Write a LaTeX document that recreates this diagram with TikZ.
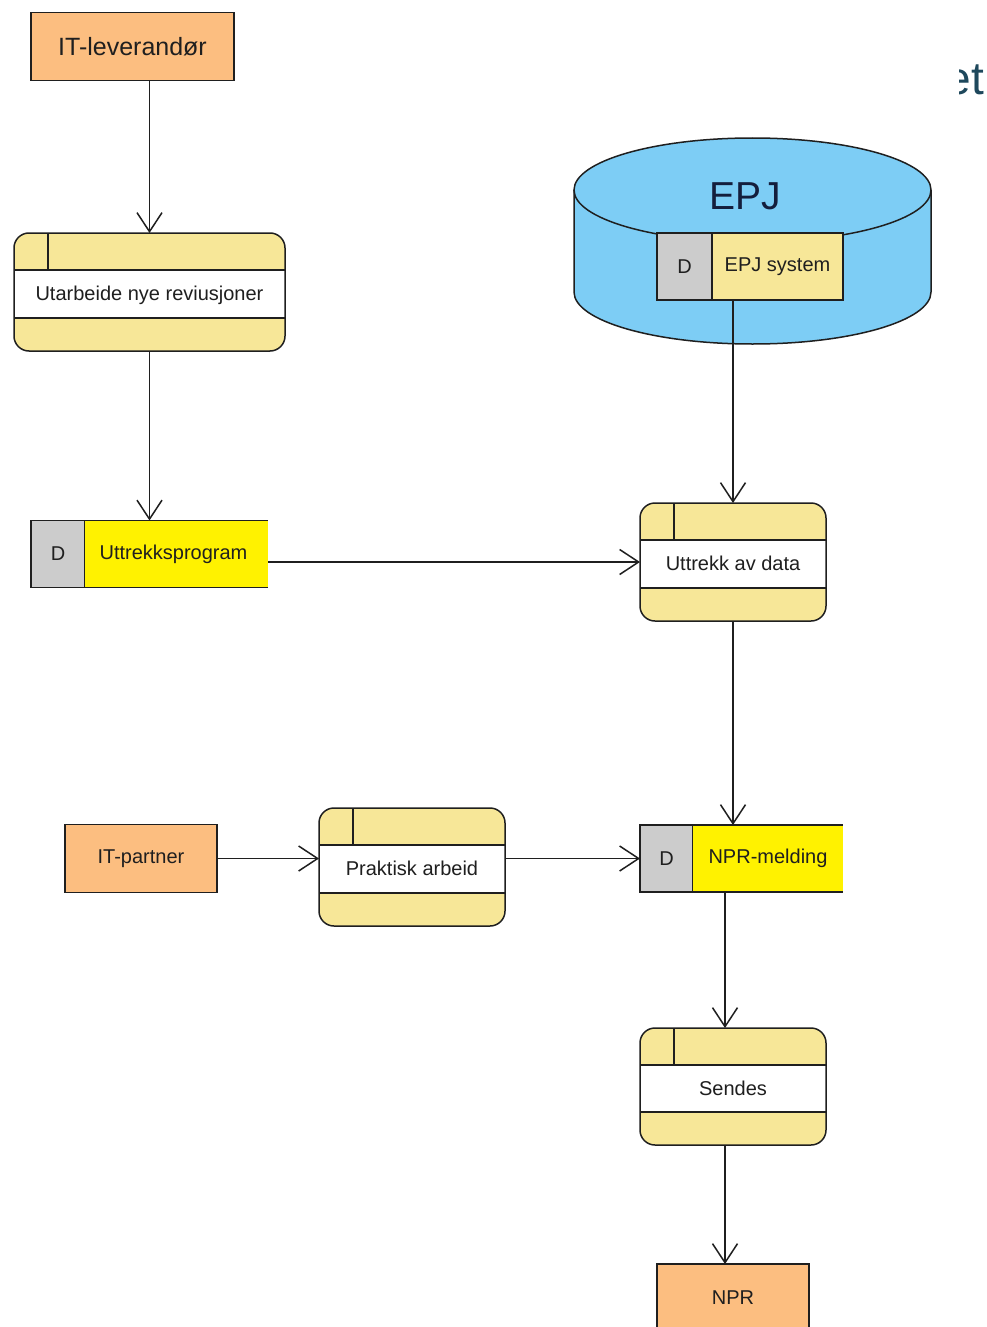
\documentclass[tikz,border=0pt]{standalone}
\usepackage{fontspec}
\setmainfont{Liberation Sans}
\usetikzlibrary{positioning,arrows.meta}

\definecolor{bandyellow}{RGB}{247,231,152}
\definecolor{extorange}{RGB}{252,190,128}
\definecolor{dgrey}{RGB}{204,204,204}
\definecolor{epjblue}{RGB}{125,205,245}
\definecolor{epjtext}{RGB}{20,30,60}
\definecolor{logoblue}{RGB}{30,72,92}

\tikzset{
  ext/.style={draw, fill=extorange, minimum height=68pt, inner sep=0pt, outer sep=0pt},
  proc/.style={draw, fill=bandyellow, rounded corners=15pt, minimum width=186pt, minimum height=118pt,
    inner sep=0pt, outer sep=0pt, text height=20pt, text depth=3pt,
    path picture={
      \coordinate (pnw) at (path picture bounding box.north west);
      \coordinate (pse) at (path picture bounding box.south east);
      \fill[white, sharp corners] ([yshift=-37pt]pnw) rectangle ([yshift=33pt]pse);
      \draw[sharp corners, line width=1.5pt] ([yshift=-37pt]pnw) -- ([yshift=-37pt]pnw -| pse)
        ([yshift=33pt]pse) -- ([yshift=33pt]pse -| pnw)
        ([xshift=34pt]pnw) -- ([xshift=34pt,yshift=-37pt]pnw);
    }},
  dbox/.style={draw, fill=dgrey, minimum width=54pt, minimum height=67pt, inner sep=0pt, outer sep=0pt},
  store/.style={fill=#1, minimum height=67pt, inner sep=0pt, outer sep=0pt},
}

\begin{document}
\begin{tikzpicture}[x=1pt, y=-1pt, line width=1.5pt, color=black!88,
  >={Straight Barb[length=19pt, width=25pt]}, font=\fontsize{20}{24}\selectfont]
\fill[white] (0,0) rectangle (987,1327);
\useasboundingbox (0,0) rectangle (987,1327);

% logo rest
\begin{scope}
\clip (959,40) rectangle (987,110);
\node[anchor=base east, text=logoblue, font=\fontsize{46}{46}\selectfont, inner sep=0pt] (logo) at (985,95) {et};
\end{scope}

% EPJ database
\fill[epjblue] (574,190) -- (574,292) arc[start angle=180, end angle=360, x radius=178.5pt, y radius=52pt]
  -- (931,190) arc[start angle=0, end angle=180, x radius=178.5pt, y radius=52pt] -- cycle;
\draw (574,190) -- (574,292) arc[start angle=180, end angle=360, x radius=178.5pt, y radius=52pt] -- (931,190);
\draw (752.5,190) ellipse [x radius=178.5pt, y radius=52pt];
\node[text=epjtext, font=\fontsize{39}{39}\selectfont] (epj) at (745,196) {EPJ};
\node[dbox, minimum width=55pt] (epjD) at (684.5,266.5) {D};
\node[store=bandyellow, draw, minimum width=131pt, right=0pt of epjD] (epjsys) {EPJ system};

% left column
\node[ext, minimum width=203pt, font=\fontsize{25}{30}\selectfont] (itlev) at (132.5,46.5) {IT-leverandør};
\node[proc, minimum width=271pt] (utarb) at (149.5,292) {Utarbeide nye reviusjoner};
\node[dbox] (uprogD) at (58,554) {D};
\node[store=yellow, minimum width=183pt, right=0pt of uprogD] (uprog) {Uttrekksprogram\hspace*{6pt}};
\draw (uprogD.north east) -- (uprog.north east) (uprogD.south east) -- (uprog.south east);

% right column
\node[proc] (uttrekk) at (733,562) {Uttrekk av data};
\node[dbox, minimum width=53pt] (nprD) at (666.5,858.5) {D};
\node[store=yellow, minimum width=150pt, right=0pt of nprD] (nprmeld) {NPR-melding};
\draw (nprD.north east) -- (nprmeld.north east) (nprD.south east) -- (nprmeld.south east);
\node[proc, minimum height=117pt] (sendes) at (733,1086.5) {Sendes};
\node[ext, minimum width=152pt] (npr) at (733,1298) {NPR};

% middle row
\node[ext, minimum width=152pt] (itpart) at (141,858.5) {IT-partner};
\node[proc] (prakt) at (412,867) {Praktisk arbeid};

% flows
\draw[->] (itlev.south -| utarb.north) -- (utarb.north);
\draw[->] (utarb.south) -- (utarb.south |- uprog.north);
\draw[->] (uprog.east |- uttrekk.west) -- (uttrekk.west);
\draw[->] (uttrekk.north |- epjsys.south) -- (uttrekk.north);
\draw[->] (uttrekk.south) -- (uttrekk.south |- nprmeld.north);
\draw[->] (itpart.east) -- (itpart.east -| prakt.west);
\draw[->] (prakt.east |- nprD.west) -- (nprD.west);
\draw[->] ([xshift=-8pt]sendes.north |- nprmeld.south) -- ([xshift=-8pt]sendes.north);
\draw[->] ([xshift=-8pt]sendes.south) -- ([xshift=-8pt]sendes.south |- npr.north);
\end{tikzpicture}
\end{document}
